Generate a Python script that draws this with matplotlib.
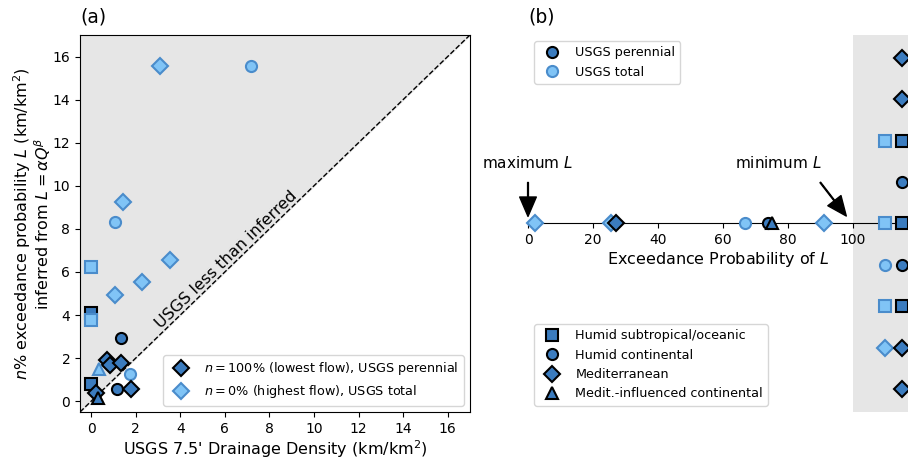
import numpy as np
import matplotlib
matplotlib.use('Agg')
import matplotlib.pyplot as plt
from matplotlib.lines import Line2D

# panel (a): USGS drainage density vs inferred L, by climate
climates = ['Humid subtropical/oceanic', 'Humid continental',
            'Mediterranean', 'Medit.-influenced continental']
markers = ['s', 'o', 'D', '^']

per_x = {'s': [0.0, 0.0], 'o': [1.35, 1.17],
         'D': [0.70, 0.86, 1.35, 1.80, 0.22], '^': [0.30]}
per_y = {'s': [4.10, 0.80], 'o': [2.92, 0.59],
         'D': [1.90, 1.70, 1.78, 0.59, 0.39], '^': [0.16]}
tot_x = {'s': [0.0, 0.0], 'o': [7.16, 1.05, 1.73],
         'D': [3.08, 1.42, 3.56, 2.30, 1.09], '^': [0.34]}
tot_y = {'s': [6.23, 3.76], 'o': [15.54, 8.32, 1.28],
         'D': [15.54, 9.25, 6.57, 5.54, 4.95], '^': [1.50]}

# panel (b): exceedance probability of USGS density within L distribution
exc_per = {'s': [], 'o': [74.0], 'D': [27.1], '^': [75.0]}
exc_tot = {'s': [], 'o': [66.9], 'D': [2.2, 25.5, 91.0], '^': []}
# basins where USGS density is below the minimum L (plotted in grey band)
below_rows_per = {'s': [2, 0, -2], 'o': [1, -1], 'D': [4, 3, -3, -4], '^': []}
below_rows_tot = {'s': [2, 0, -2], 'o': [-1], 'D': [-3], '^': []}

dark_fc = '#3b7cbf'
light_fc = '#80c4f6'
light_ec = '#4a8ccb'
grey = '0.9'

plt.rcParams['font.size'] = 11
plt.rcParams['axes.labelsize'] = 11.5
plt.rcParams['xtick.labelsize'] = 10
plt.rcParams['ytick.labelsize'] = 10
plt.rcParams['legend.fontsize'] = 9.2

fig = plt.figure(figsize=(9.08, 4.59), dpi=100)
ax1 = fig.add_axes([0.0881, 0.1024, 0.4295, 0.8214])
ax2 = fig.add_axes([0.5815, 0.1024, 0.4185, 0.8214])

dark = dict(mfc=dark_fc, mec='k', mew=1.5, ms=8, ls='none')
light = dict(mfc=light_fc, mec=light_ec, mew=1.5, ms=8, ls='none')

lim = [-0.5, 17]
ax1.fill_between(lim, lim, 17, color=grey, zorder=0)
ax1.plot(lim, lim, 'k--', lw=1, zorder=1)
for m in markers:
    ax1.plot(per_x[m], per_y[m], marker=m, zorder=3, **dark)
    ax1.plot(tot_x[m], tot_y[m], marker=m, zorder=3, **light)
ax1.text(6.3, 6.3, 'USGS less than inferred', rotation=44, fontsize=11.5,
         rotation_mode='anchor', ha='center', va='bottom')
ax1.set_xlim(lim)
ax1.set_ylim(lim)
ax1.set_xticks(np.arange(0, 17, 2))
ax1.set_yticks(np.arange(0, 17, 2))
ax1.set_xlabel("USGS 7.5' Drainage Density (km/km$^2$)", labelpad=2)
ax1.set_ylabel('$n$% exceedance probability $L$ (km/km$^2$)\n'
               'inferred from $L = \\alpha Q^\\beta$', labelpad=0,
               linespacing=0.95)
ax1.set_title('(a)', loc='left', fontsize=13.5, pad=9)
h = [Line2D([], [], marker='D', **dark), Line2D([], [], marker='D', **light)]
ax1.legend(h, ['$n = 100\\%$ (lowest flow), USGS perennial',
               '$n = 0\\%$ (highest flow), USGS total'],
           loc='lower right')

# panel (b)
ax2.axvspan(100, 120, color=grey, zorder=0, lw=0)
for m in markers:
    ax2.plot(exc_tot[m], np.zeros(len(exc_tot[m])), marker=m,
             clip_on=False, zorder=3, **light)
    ax2.plot(exc_per[m], np.zeros(len(exc_per[m])), marker=m,
             clip_on=False, zorder=3, **dark)
    ax2.plot(np.full(len(below_rows_tot[m]), 110.0), below_rows_tot[m],
             marker=m, clip_on=False, zorder=3, **light)
    ax2.plot(np.full(len(below_rows_per[m]), 115.0), below_rows_per[m],
             marker=m, clip_on=False, zorder=3, **dark)

arrow = dict(facecolor='k', edgecolor='k', width=0.6, headwidth=12,
             headlength=14, shrink=0)
ax2.annotate('', xy=(0, 0.17), xytext=(0, 0.99), arrowprops=arrow)
ax2.annotate('', xy=(98, 0.18), xytext=(90, 0.99), arrowprops=arrow)
ax2.text(0, 1.47, 'maximum $L$', ha='center', va='center')
ax2.text(77.2, 1.47, 'minimum $L$', ha='center', va='center')

ax2.set_xlim(0, 117)
ax2.set_ylim(-4.55, 4.55)
for s in ['left', 'right', 'top']:
    ax2.spines[s].set_visible(False)
ax2.spines['bottom'].set_position(('data', 0))
ax2.set_yticks([])
ax2.set_xticks(np.arange(0, 101, 20))
ax2.set_xlabel('Exceedance Probability of $L$', labelpad=2)
ax2.set_title('(b)', loc='left', fontsize=13.5, pad=9)

h1 = [Line2D([], [], marker='o', **dark), Line2D([], [], marker='o', **light)]
leg1 = ax2.legend(h1, ['USGS perennial', 'USGS total'], loc='upper left')
ax2.add_artist(leg1)
h2 = [Line2D([], [], marker=m, **dark) for m in markers]
ax2.legend(h2, climates, loc='lower left')

fig.savefig('out.png', dpi=100)
